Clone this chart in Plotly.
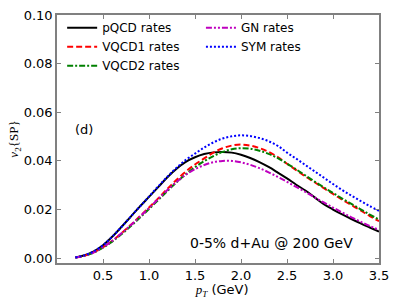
import plotly.graph_objects as go

pt = [0.2, 0.3, 0.4, 0.5, 0.6, 0.7, 0.8, 0.9, 1.0, 1.1, 1.2, 1.3, 1.4, 1.5, 1.6, 1.7, 1.8, 1.9,
      2.0, 2.1, 2.2, 2.3, 2.4, 2.5, 2.6, 2.7, 2.8, 2.9, 3.0, 3.1, 3.2, 3.3, 3.4, 3.5]

pqcd = [0.0003, 0.0012, 0.0028, 0.0053, 0.0088, 0.0128, 0.0170, 0.0212, 0.0252, 0.0292, 0.0333,
        0.0368, 0.0396, 0.0415, 0.0428, 0.0435, 0.0437, 0.0434, 0.0425, 0.0412, 0.0395, 0.0375,
        0.0352, 0.0328, 0.0302, 0.0278, 0.0250, 0.0222, 0.0200, 0.0180, 0.0161, 0.0143, 0.0126, 0.0109]

vqcd1 = [0.0003, 0.0010, 0.0024, 0.0045, 0.0071, 0.0102, 0.0136, 0.0172, 0.0208, 0.0246, 0.0285,
         0.0322, 0.0356, 0.0385, 0.0410, 0.0434, 0.0452, 0.0463, 0.0467, 0.0463, 0.0453, 0.0437,
         0.0416, 0.0388, 0.0362, 0.0336, 0.0312, 0.0288, 0.0264, 0.0240, 0.0218, 0.0196, 0.0173, 0.0152]

vqcd2 = [0.0003, 0.0010, 0.0023, 0.0043, 0.0068, 0.0098, 0.0131, 0.0166, 0.0202, 0.0239, 0.0276,
         0.0312, 0.0345, 0.0374, 0.0399, 0.0420, 0.0437, 0.0448, 0.0452, 0.0450, 0.0442, 0.0429,
         0.0411, 0.0389, 0.0365, 0.0340, 0.0315, 0.0291, 0.0268, 0.0245, 0.0223, 0.0201, 0.0179, 0.0159]

gn = [0.0003, 0.0010, 0.0024, 0.0045, 0.0071, 0.0102, 0.0135, 0.0170, 0.0206, 0.0243, 0.0280,
      0.0314, 0.0343, 0.0366, 0.0383, 0.0395, 0.0400, 0.0400, 0.0394, 0.0384, 0.0370, 0.0353,
      0.0334, 0.0314, 0.0293, 0.0272, 0.0250, 0.0229, 0.0208, 0.0188, 0.0168, 0.0150, 0.0132, 0.0116]

sym = [0.0003, 0.0012, 0.0028, 0.0053, 0.0088, 0.0128, 0.0170, 0.0212, 0.0253, 0.0295, 0.0335,
       0.0372, 0.0404, 0.0430, 0.0455, 0.0476, 0.0492, 0.0501, 0.0505, 0.0502, 0.0494, 0.0481,
       0.0462, 0.0434, 0.0409, 0.0383, 0.0357, 0.0331, 0.0305, 0.0280, 0.0257, 0.0235, 0.0214, 0.0194]

x_ticks = [0.5, 1.0, 1.5, 2.0, 2.5, 3.0, 3.5]
y_ticks = [0.00, 0.02, 0.04, 0.06, 0.08, 0.10]

series = [
    ("pQCD rates", pqcd, "#000000", "solid", "legend"),
    ("VQCD1 rates", vqcd1, "#ff0000", "6px,3px", "legend"),
    ("VQCD2 rates", vqcd2, "#008000", "6px,2px,2px,2px", "legend"),
    ("GN rates", gn, "#bf00bf", "6px,2px,2px,2px,2px,2px", "legend2"),
    ("SYM rates", sym, "#0000ff", "2px,2px", "legend2"),
]

fig = go.Figure()
for name, vals, col, dash, lg in series:
    fig.add_trace(go.Scatter(x=pt, y=vals, mode="lines", name=name,
                             line=dict(color=col, width=2, dash=dash, shape="spline"),
                             legend=lg))

font = dict(family="DejaVu Sans", size=13, color="black")
axcol = "#808080"
common = dict(showline=True, linecolor=axcol, linewidth=1.5, mirror="ticks",
              ticks="inside", ticklen=4, tickcolor=axcol, tickwidth=1,
              showgrid=False, zeroline=False, tickfont=font, automargin=False)

fig.update_layout(
    width=399, height=299,
    margin=dict(l=57, r=20, t=15, b=36),
    plot_bgcolor="white", paper_bgcolor="white",
    font=font,
    xaxis=dict(range=[0, 3.5], tickvals=x_ticks, tickformat=".1f",
               title=dict(text='&nbsp;&nbsp;<span style="font-family:Liberation Serif"><i>p</i><sub><i>T</i></sub></span> (GeV)',
                          font=dict(size=13), standoff=1), **common),
    yaxis=dict(range=[-0.002, 0.1], tickvals=y_ticks, tickformat=".2f",
               title=dict(text='<span style="font-family:Liberation Serif"><i>v</i><sub>2</sub>{SP}</span>',
                          font=dict(size=13), standoff=2), **common),
    legend=dict(x=0.016, y=1.007, xanchor="left", yanchor="top", bgcolor="rgba(0,0,0,0)",
                font=dict(family="DejaVu Sans", size=12), tracegroupgap=0),
    legend2=dict(x=0.447, y=1.007, xanchor="left", yanchor="top", bgcolor="rgba(0,0,0,0)",
                 font=dict(family="DejaVu Sans", size=12), tracegroupgap=0),
    annotations=[
        dict(text="(d)", x=0.05, y=0.537, xref="paper", yref="paper", showarrow=False,
             xanchor="left", yanchor="middle", font=dict(family="DejaVu Sans", size=13)),
        dict(text="0-5% d+Au @ 200 GeV", x=0.925, y=0.08, xref="paper", yref="paper",
             showarrow=False, xanchor="right", yanchor="middle",
             font=dict(family="DejaVu Sans", size=14)),
    ],
)

fig.write_html("out.html", config={"displayModeBar": False},
               post_script="document.body.style.margin='0';document.body.style.padding='0';")
